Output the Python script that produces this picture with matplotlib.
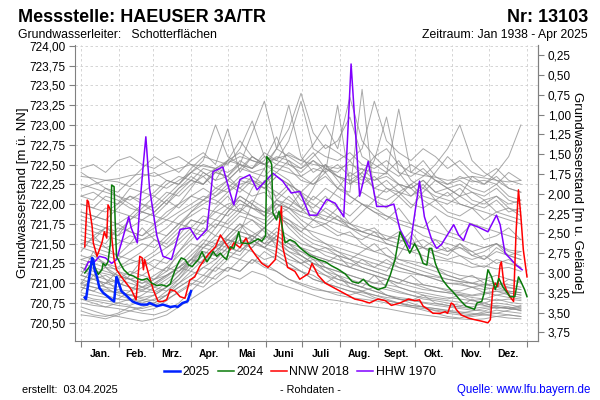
import numpy as np
import matplotlib
matplotlib.use("Agg")
import matplotlib.pyplot as plt
from matplotlib.ticker import FuncFormatter
from matplotlib.lines import Line2D

plt.rcParams['font.family'] = ['Liberation Sans', 'DejaVu Sans']

# ground level of the well (m ü. NN), used for the right axis
GOK = 724.13

month_names = ["Jan.", "Feb.", "Mrz.", "Apr.", "Mai", "Juni", "Juli", "Aug.",
               "Sept.", "Okt.", "Nov.", "Dez."]
month_starts = [0, 31, 59, 90, 120, 151, 181, 212, 243, 273, 304, 334, 365]

# historical years (grey), sampled every 10 days from 1 Jan
grey_days = list(range(0, 361, 10))
grey_years = [
    [722.35, 722.33, 722.30, 722.32, 722.36, 722.38, 722.35, 722.40, 722.45, 722.50, 722.48, 722.45, 722.52, 722.60, 722.55, 722.50, 722.58, 722.62, 722.55, 722.50, 722.48, 722.45, 722.50, 722.44, 722.40, 722.38, 723.20, 722.40, 722.36, 722.34, 722.30, 722.32, 722.35, 722.33, 722.30, 722.28, 722.30],
    [722.20, 722.25, 722.30, 722.28, 722.22, 722.35, 722.40, 722.30, 722.25, 722.45, 722.60, 722.55, 722.50, 722.70, 723.05, 722.60, 722.55, 722.80, 723.30, 722.70, 722.60, 722.55, 722.65, 722.50, 722.45, 722.55, 722.40, 722.35, 722.45, 722.30, 722.25, 722.35, 722.28, 722.30, 722.25, 722.40, 722.30],
    [721.90, 721.85, 721.80, 721.95, 722.10, 722.00, 721.90, 722.05, 722.20, 722.30, 722.25, 722.40, 722.35, 722.50, 722.40, 722.45, 722.70, 723.25, 722.60, 722.40, 722.50, 722.35, 722.30, 722.40, 722.20, 722.30, 722.15, 722.10, 722.25, 722.05, 722.00, 722.10, 722.00, 721.95, 722.05, 721.90, 721.95],
    [721.30, 721.25, 721.20, 721.18, 721.25, 721.30, 721.40, 721.55, 721.70, 721.90, 722.00, 722.10, 722.20, 722.35, 722.30, 722.25, 722.40, 722.30, 722.10, 722.00, 721.90, 721.80, 721.70, 721.60, 721.55, 721.50, 721.45, 721.40, 721.35, 721.30, 721.28, 721.25, 721.20, 721.22, 721.18, 721.20, 721.15],
    [720.80, 720.75, 720.70, 720.68, 720.65, 720.62, 720.60, 720.65, 720.75, 720.90, 721.05, 721.20, 721.35, 721.30, 721.45, 721.60, 721.50, 721.40, 721.30, 721.20, 721.10, 721.05, 721.00, 720.95, 720.90, 720.85, 720.82, 720.80, 720.75, 720.72, 720.70, 720.68, 720.66, 720.65, 720.70, 720.68, 720.66],
    [721.10, 721.05, 721.00, 720.95, 721.10, 721.30, 721.20, 721.15, 721.40, 721.60, 721.80, 721.70, 721.90, 722.10, 722.00, 721.85, 722.05, 722.20, 721.95, 721.80, 721.70, 721.60, 721.65, 721.50, 721.40, 721.45, 721.30, 721.25, 721.20, 721.15, 721.10, 721.05, 721.10, 721.00, 720.95, 721.05, 721.00],
    [721.60, 721.55, 721.50, 721.70, 721.65, 721.60, 721.75, 721.90, 722.00, 722.20, 722.40, 722.30, 722.55, 722.80, 722.60, 722.50, 722.70, 722.95, 723.40, 722.90, 722.70, 722.80, 723.10, 722.60, 722.50, 722.40, 722.55, 722.30, 722.20, 722.10, 722.05, 722.00, 721.95, 721.90, 721.85, 721.80, 721.75],
    [720.95, 720.90, 720.85, 720.80, 720.78, 720.85, 720.95, 721.05, 721.15, 721.30, 721.25, 721.40, 721.55, 721.50, 721.45, 721.60, 721.55, 721.40, 721.35, 721.25, 721.20, 721.15, 721.10, 721.05, 721.00, 720.98, 720.95, 720.90, 720.88, 720.85, 720.82, 720.80, 720.78, 720.80, 720.85, 720.82, 720.80],
    [721.70, 721.65, 721.60, 721.55, 721.50, 721.55, 721.60, 721.70, 721.85, 721.95, 722.05, 722.00, 722.15, 722.25, 722.30, 722.20, 722.35, 722.25, 722.15, 722.30, 722.45, 722.35, 722.25, 722.40, 722.60, 722.45, 722.35, 722.50, 722.40, 722.30, 722.20, 722.25, 722.15, 722.10, 722.20, 722.05, 722.00],
    [721.00, 721.20, 721.05, 720.90, 720.85, 720.80, 720.78, 720.90, 721.00, 721.15, 721.10, 721.25, 721.40, 721.35, 721.55, 721.70, 721.45, 721.35, 721.25, 721.30, 721.15, 721.05, 721.00, 720.95, 721.10, 720.95, 720.90, 720.85, 720.80, 720.78, 720.75, 720.72, 720.70, 720.75, 720.70, 720.68, 720.72],
    [722.00, 721.95, 722.10, 722.05, 721.95, 721.90, 722.00, 722.15, 722.10, 722.25, 722.35, 722.20, 722.30, 722.45, 722.40, 722.35, 722.50, 722.45, 722.30, 722.25, 722.35, 722.20, 722.15, 723.45, 722.10, 722.05, 722.15, 722.00, 721.95, 722.05, 721.90, 721.85, 721.95, 721.80, 721.90, 721.85, 721.80],
    [721.20, 721.10, 721.05, 721.00, 720.95, 720.90, 720.88, 720.95, 721.10, 721.25, 721.45, 721.60, 721.55, 721.70, 721.80, 721.65, 721.55, 721.45, 721.35, 721.25, 721.15, 721.10, 721.00, 720.95, 720.90, 720.85, 720.80, 720.75, 720.70, 720.65, 720.62, 720.60, 720.58, 720.60, 720.62, 720.60, 720.58],
    [721.40, 721.60, 721.45, 721.35, 721.50, 721.70, 721.55, 721.45, 721.60, 721.80, 721.75, 721.95, 722.10, 721.90, 722.20, 722.45, 722.05, 721.95, 722.15, 721.90, 721.80, 721.95, 721.75, 721.65, 721.70, 721.55, 721.50, 721.65, 721.45, 721.40, 721.35, 721.50, 721.40, 721.30, 721.45, 721.35, 721.30],
    [720.70, 720.65, 720.60, 720.58, 720.55, 720.52, 720.55, 720.60, 720.70, 720.80, 720.90, 721.00, 721.10, 721.05, 721.15, 721.10, 721.00, 720.95, 720.90, 720.85, 720.80, 720.78, 720.75, 720.72, 720.70, 720.68, 720.65, 720.62, 720.60, 720.58, 720.56, 720.55, 720.54, 720.55, 720.58, 720.56, 720.55],
    [721.80, 721.75, 721.70, 721.65, 721.80, 721.90, 721.85, 722.00, 722.15, 722.30, 722.25, 722.40, 722.35, 722.55, 722.45, 722.60, 722.50, 722.65, 722.55, 722.75, 723.00, 722.70, 723.35, 722.80, 722.60, 722.70, 722.50, 722.40, 722.55, 722.35, 722.25, 722.30, 722.20, 722.15, 722.25, 722.10, 722.05],
    [721.10, 721.05, 721.00, 721.05, 721.15, 721.10, 721.05, 721.10, 721.20, 721.35, 721.50, 721.45, 721.60, 721.75, 721.65, 721.55, 721.70, 721.60, 721.50, 721.45, 721.40, 721.35, 721.30, 721.25, 721.20, 721.30, 721.20, 721.15, 721.10, 721.05, 721.00, 721.00, 720.95, 720.98, 721.00, 720.95, 720.92],
    [721.00, 720.95, 720.90, 720.88, 720.85, 720.90, 721.00, 721.10, 721.20, 721.30, 721.40, 721.35, 721.50, 721.60, 721.55, 721.70, 721.85, 721.75, 721.65, 721.80, 721.95, 721.85, 721.75, 721.90, 722.05, 722.20, 722.10, 721.95, 722.15, 722.30, 722.20, 722.10, 722.35, 722.25, 722.40, 722.60, 723.00],
    [722.40, 722.30, 722.20, 722.10, 722.00, 721.90, 721.85, 721.80, 721.90, 722.00, 722.10, 722.05, 721.95, 722.10, 722.00, 721.90, 721.85, 721.80, 721.70, 721.65, 721.60, 721.55, 721.50, 721.45, 721.40, 721.35, 721.30, 721.28, 721.25, 721.20, 721.15, 721.10, 721.08, 721.05, 721.00, 720.98, 720.95],
    [721.50, 721.45, 721.40, 721.35, 721.30, 721.40, 721.55, 721.50, 721.65, 721.80, 721.75, 721.90, 721.85, 722.00, 721.95, 721.90, 722.05, 722.00, 721.90, 722.10, 722.00, 722.20, 722.40, 722.30, 722.55, 723.10, 722.40, 722.20, 722.05, 721.95, 721.85, 721.80, 721.75, 721.70, 721.65, 721.60, 721.55],
    [720.85, 720.80, 720.78, 720.75, 720.72, 720.78, 720.85, 720.95, 721.10, 721.30, 721.50, 721.70, 721.90, 722.05, 721.95, 721.85, 722.00, 721.90, 721.75, 721.60, 721.50, 721.40, 721.30, 721.20, 721.15, 721.10, 721.05, 721.00, 720.95, 720.90, 720.88, 720.85, 720.82, 720.80, 720.78, 720.80, 720.78],
    [722.10, 722.05, 722.20, 722.15, 722.30, 722.45, 722.60, 722.50, 722.40, 722.55, 722.65, 722.50, 722.95, 722.40, 722.60, 722.50, 722.45, 722.40, 722.35, 722.45, 722.40, 723.25, 722.25, 722.35, 722.20, 722.15, 722.25, 722.10, 722.20, 722.40, 722.60, 722.45, 722.30, 722.25, 722.35, 722.20, 722.15],
    [721.25, 721.20, 721.15, 721.10, 721.05, 721.00, 721.05, 721.15, 721.25, 721.40, 721.55, 721.50, 721.70, 721.65, 722.00, 722.30, 721.90, 721.70, 721.55, 721.45, 721.35, 721.30, 721.25, 721.20, 721.15, 721.10, 721.05, 721.00, 720.98, 720.95, 720.90, 720.88, 720.85, 720.88, 720.90, 720.85, 720.82],
    [721.65, 721.60, 721.70, 721.75, 721.65, 721.60, 721.70, 721.80, 721.75, 721.85, 721.95, 721.90, 722.00, 722.05, 721.95, 721.90, 722.00, 721.95, 721.85, 721.80, 721.75, 721.85, 721.70, 721.65, 721.60, 721.55, 721.65, 721.50, 721.45, 721.55, 721.40, 721.45, 721.35, 721.40, 721.50, 721.35, 721.40],
    [721.05, 721.00, 720.95, 720.92, 720.90, 720.95, 721.05, 721.20, 721.15, 721.30, 721.45, 721.40, 721.55, 721.50, 721.60, 721.50, 721.45, 721.35, 721.25, 721.15, 721.10, 721.00, 720.95, 720.90, 720.85, 720.80, 720.75, 720.70, 720.66, 720.62, 720.58, 720.56, 720.60, 720.64, 720.62, 720.66, 720.70],
    [721.90, 721.85, 721.80, 721.75, 721.85, 722.00, 721.95, 722.10, 722.25, 722.40, 722.55, 723.00, 722.60, 722.50, 722.90, 723.30, 722.70, 722.60, 722.50, 722.65, 722.45, 722.40, 722.55, 722.35, 722.30, 722.40, 722.25, 722.20, 722.30, 722.15, 722.10, 722.20, 722.05, 722.00, 722.10, 721.95, 721.90],
    [720.90, 721.10, 720.95, 720.85, 720.80, 720.75, 720.80, 720.85, 720.95, 721.05, 721.00, 721.20, 721.15, 721.30, 721.25, 721.40, 721.30, 721.20, 721.15, 721.05, 721.00, 721.10, 720.95, 720.90, 720.95, 720.85, 720.80, 720.78, 720.85, 720.75, 720.72, 720.70, 720.80, 720.72, 720.68, 720.70, 720.65],
    [721.35, 721.30, 721.25, 721.20, 721.30, 721.25, 721.35, 721.45, 721.55, 721.70, 721.65, 721.80, 721.75, 721.90, 721.85, 721.80, 721.95, 722.10, 721.95, 722.20, 722.50, 722.30, 722.10, 722.00, 721.90, 721.85, 721.75, 721.70, 721.60, 721.55, 721.50, 721.45, 721.40, 721.45, 721.50, 721.40, 721.35],
    [722.25, 722.20, 722.15, 722.10, 722.05, 722.15, 722.25, 722.20, 722.30, 722.40, 722.35, 722.45, 722.40, 722.50, 722.45, 722.55, 722.85, 722.50, 722.45, 722.55, 722.40, 722.50, 722.35, 722.45, 722.30, 722.35, 722.25, 722.20, 722.30, 722.15, 722.20, 722.10, 722.15, 722.05, 722.10, 722.00, 722.05],
    [721.15, 721.10, 721.20, 721.10, 721.05, 721.00, 721.10, 721.20, 721.35, 721.50, 721.45, 721.55, 721.50, 721.65, 721.60, 721.50, 721.55, 721.45, 721.40, 721.35, 721.30, 721.25, 721.20, 721.30, 721.20, 721.15, 721.35, 721.60, 721.30, 721.20, 721.10, 721.05, 721.00, 720.95, 720.92, 720.90, 720.88],
    [722.00, 721.95, 721.90, 722.00, 722.10, 722.05, 722.15, 722.30, 722.25, 722.40, 722.50, 722.45, 722.55, 722.65, 722.55, 722.50, 722.60, 722.55, 722.45, 722.60, 722.75, 722.65, 722.55, 722.70, 723.30, 722.80, 722.65, 722.55, 722.70, 722.60, 722.45, 722.55, 722.40, 722.35, 722.45, 722.30, 722.25],
    [720.95, 720.90, 721.00, 721.15, 721.05, 720.95, 720.90, 721.00, 721.15, 721.25, 721.35, 721.30, 721.45, 721.40, 721.55, 721.45, 721.40, 721.30, 721.25, 721.35, 721.20, 721.15, 721.10, 721.05, 721.00, 721.05, 720.95, 720.90, 720.85, 720.82, 720.80, 720.85, 720.78, 720.75, 720.80, 720.76, 720.74],
    [721.75, 721.70, 721.65, 721.60, 721.70, 721.80, 721.75, 721.85, 722.00, 722.10, 722.05, 722.20, 722.15, 722.30, 722.25, 722.20, 722.35, 722.25, 722.15, 722.05, 722.20, 722.10, 722.00, 722.15, 722.05, 721.95, 722.10, 722.25, 722.35, 722.50, 722.70, 723.00, 722.55, 722.40, 722.30, 722.20, 722.15],
    [721.30, 721.35, 721.25, 721.15, 721.10, 721.20, 721.30, 721.25, 721.40, 721.55, 721.70, 721.60, 721.80, 721.95, 721.85, 721.75, 721.90, 721.80, 721.65, 721.55, 721.50, 721.45, 721.40, 721.35, 721.30, 721.25, 721.20, 721.15, 721.10, 721.05, 721.00, 720.98, 720.95, 720.92, 720.95, 720.90, 720.88],
    [720.75, 720.72, 720.70, 720.75, 720.80, 720.78, 720.75, 720.85, 721.00, 721.10, 721.20, 721.15, 721.30, 721.45, 721.40, 721.30, 721.35, 721.25, 721.15, 721.10, 721.00, 720.95, 720.90, 720.88, 720.85, 720.82, 720.80, 720.78, 720.76, 720.74, 720.72, 720.70, 720.68, 720.70, 720.72, 720.70, 720.68],
    [721.50, 721.55, 721.70, 721.60, 721.80, 721.95, 722.10, 722.00, 722.20, 722.35, 722.25, 722.45, 722.30, 722.20, 722.35, 722.25, 722.15, 722.05, 721.95, 721.90, 721.85, 721.80, 721.75, 721.70, 721.65, 721.60, 721.55, 721.50, 721.55, 721.45, 721.40, 721.50, 721.35, 721.30, 721.40, 721.35, 721.30],
    [722.10, 722.15, 722.05, 722.00, 722.20, 722.15, 722.10, 722.25, 722.35, 722.30, 722.45, 722.40, 722.55, 722.50, 722.45, 722.65, 722.55, 722.50, 722.40, 722.55, 722.45, 722.35, 722.30, 722.25, 722.35, 722.20, 722.15, 722.25, 722.10, 722.05, 722.15, 722.00, 721.95, 722.05, 721.90, 721.95, 721.85],
    [721.10, 721.40, 721.20, 721.05, 721.00, 720.95, 721.00, 721.10, 721.20, 721.15, 721.30, 721.45, 721.40, 721.55, 721.50, 721.45, 721.60, 721.50, 721.40, 721.30, 721.25, 721.35, 721.20, 721.15, 721.10, 721.05, 721.00, 721.10, 720.98, 720.95, 720.92, 720.90, 720.95, 720.88, 720.85, 720.88, 720.85],
    [720.88, 720.85, 720.82, 720.80, 720.90, 721.05, 720.95, 720.90, 721.05, 721.25, 721.40, 721.35, 721.60, 721.75, 721.55, 721.45, 721.60, 721.50, 721.35, 721.25, 721.20, 721.10, 721.05, 721.00, 720.95, 720.92, 720.88, 720.85, 720.82, 720.80, 720.78, 720.76, 720.74, 720.72, 720.75, 720.73, 720.70],
    [721.45, 721.40, 721.35, 721.30, 721.40, 721.50, 721.45, 721.60, 721.75, 721.90, 722.05, 722.15, 722.30, 722.45, 722.60, 722.50, 722.40, 722.55, 722.35, 722.25, 722.40, 722.20, 722.10, 722.00, 721.95, 721.85, 721.80, 721.75, 721.70, 721.65, 721.60, 721.55, 721.50, 721.45, 721.50, 721.42, 721.40],
    [721.00, 721.05, 721.10, 721.00, 720.95, 720.92, 720.98, 721.08, 721.20, 721.30, 721.25, 721.45, 721.55, 721.50, 721.60, 721.70, 721.60, 721.50, 721.45, 721.40, 721.45, 721.35, 721.30, 721.40, 721.50, 721.35, 721.25, 721.20, 721.15, 721.10, 721.05, 721.02, 721.00, 720.98, 720.96, 720.94, 720.92],
    [721.85, 721.80, 721.95, 721.90, 721.85, 721.80, 721.90, 722.05, 721.95, 722.10, 722.20, 722.10, 722.25, 722.15, 722.30, 722.20, 722.10, 722.25, 722.05, 721.95, 722.10, 721.95, 721.85, 722.00, 721.90, 721.80, 721.95, 721.75, 721.70, 721.85, 721.65, 721.60, 721.75, 721.55, 721.60, 721.70, 721.55],
    [720.65, 720.60, 720.58, 720.62, 720.70, 720.65, 720.68, 720.78, 720.90, 721.00, 720.95, 721.10, 721.20, 721.15, 721.30, 721.25, 721.15, 721.05, 721.00, 720.95, 720.90, 720.88, 720.85, 720.90, 720.82, 720.78, 720.75, 720.72, 720.70, 720.68, 720.65, 720.62, 720.60, 720.62, 720.66, 720.64, 720.62],
    [721.55, 721.50, 721.45, 721.50, 721.60, 721.55, 721.65, 721.60, 721.75, 721.70, 721.85, 721.80, 721.95, 721.90, 722.05, 721.95, 721.85, 721.95, 721.80, 721.70, 721.75, 721.65, 721.60, 721.55, 721.65, 721.50, 721.45, 721.40, 721.45, 721.35, 721.30, 721.35, 721.25, 721.20, 721.30, 721.25, 721.20],
    [722.45, 722.50, 722.40, 722.55, 722.60, 722.50, 722.45, 722.55, 722.60, 722.50, 722.40, 722.30, 722.35, 722.20, 722.10, 722.15, 722.00, 721.95, 721.90, 721.85, 721.80, 721.75, 721.70, 721.65, 721.60, 721.55, 721.60, 721.50, 721.45, 721.40, 721.45, 721.35, 721.30, 721.35, 721.25, 721.30, 721.20],
    [720.60, 720.58, 720.55, 720.60, 720.65, 720.70, 720.75, 720.85, 720.95, 721.05, 721.20, 721.30, 721.45, 721.40, 721.55, 721.45, 721.35, 721.25, 721.15, 721.05, 721.00, 720.95, 720.90, 720.85, 720.80, 720.78, 720.75, 720.72, 720.70, 720.68, 720.66, 720.64, 720.62, 720.60, 720.58, 720.60, 720.58],
    [720.98, 720.95, 720.92, 720.88, 720.85, 720.82, 720.85, 720.95, 721.05, 721.20, 721.35, 721.50, 721.45, 721.65, 721.60, 721.50, 721.65, 721.55, 721.45, 721.35, 721.30, 721.25, 721.20, 721.15, 721.10, 721.05, 721.00, 720.96, 720.92, 720.90, 720.88, 720.86, 720.84, 720.86, 720.90, 720.88, 720.85],
    [721.20, 721.15, 721.12, 721.08, 721.05, 721.10, 721.20, 721.35, 721.50, 721.65, 721.60, 721.75, 721.70, 721.85, 721.80, 721.70, 721.85, 721.75, 721.60, 721.50, 721.45, 721.40, 721.35, 721.30, 721.25, 721.20, 721.15, 721.12, 721.10, 721.08, 721.05, 721.02, 721.00, 721.05, 721.10, 721.05, 721.02],
    [720.80, 720.78, 720.75, 720.72, 720.70, 720.68, 720.72, 720.80, 720.88, 720.98, 721.10, 721.05, 721.20, 721.15, 721.30, 721.20, 721.15, 721.05, 720.98, 720.92, 720.90, 720.85, 720.82, 720.80, 720.78, 720.75, 720.72, 720.70, 720.68, 720.66, 720.64, 720.62, 720.65, 720.68, 720.70, 720.68, 720.66],
]

# highlighted years (day of year, level in m ü. NN)
days_2025 = [3, 4, 9, 10, 11, 13, 15, 18, 22, 25, 27, 29, 30, 33, 38, 42, 45, 49, 54, 56, 62, 67, 73, 77, 79, 83, 87, 90]
vals_2025 = [720.82, 720.80, 721.32, 721.30, 721.17, 721.08, 720.94, 720.88, 720.83, 720.79, 720.77, 721.08, 721.04, 720.90,
             720.83, 720.77, 720.75, 720.73, 720.73, 720.75, 720.71, 720.73, 720.70, 720.71, 720.70, 720.75, 720.77, 720.90]

days_2024 = [3, 6, 9, 11, 14, 17, 18, 20, 22, 24, 25, 27, 28, 29, 32, 35, 39, 43, 46, 50, 54, 58, 62, 66, 70, 73, 74, 77,
             80, 82, 85, 88, 91, 93, 96, 99, 100, 103, 106, 108, 111, 114, 116, 119, 122, 125, 129, 131, 138, 145, 148, 151,
             152, 155, 156, 157, 160, 162, 164, 167, 171, 175, 179, 183, 187, 194, 200, 205, 210, 216, 222, 227, 231, 236,
             243, 249, 253, 257, 261, 264, 269, 273, 277, 280, 283, 285, 287, 290, 292, 296, 300, 305, 310, 315, 322, 324,
             328, 330, 333, 336, 339, 342, 345, 351, 355, 358, 360, 363, 365]
vals_2024 = [721.13, 721.19, 721.25, 721.21, 721.11, 721.17, 721.25, 721.22, 721.27, 721.51, 722.24, 722.22, 721.72, 721.34,
             721.25, 721.17, 721.11, 721.09, 721.06, 721.04, 721.06, 721.00, 720.97, 720.98, 720.96, 720.99, 721.04, 721.17,
             721.27, 721.32, 721.30, 721.23, 721.21, 721.25, 721.30, 721.40, 721.36, 721.27, 721.34, 721.40, 721.34, 721.38,
             721.34, 721.30, 721.46, 721.44, 721.65, 721.51, 721.50, 721.56, 721.53, 721.60, 722.60, 722.54, 722.50, 721.89,
             721.80, 721.91, 721.76, 721.51, 721.55, 721.52, 721.45, 721.40, 721.35, 721.30, 721.27, 721.22, 721.18, 721.12,
             721.02, 721.00, 721.05, 720.97, 720.92, 720.95, 721.10, 721.30, 721.65, 721.55, 721.38, 721.50, 721.38, 721.25,
             721.23, 721.44, 721.44, 721.25, 721.17, 721.04, 720.96, 720.88, 720.79, 720.71, 720.67, 720.75, 720.77, 720.88,
             721.17, 721.08, 720.92, 721.06, 720.96, 720.83, 720.83, 721.08, 721.02, 720.92, 720.83]

days_2018 = [3, 5, 6, 9, 10, 13, 17, 19, 21, 22, 24, 25, 27, 29, 33, 37, 41, 45, 48, 50, 51, 52, 55, 59, 63, 67, 70, 73, 77,
             81, 85, 89, 93, 97, 101, 105, 110, 114, 118, 122, 125, 130, 135, 138, 143, 148, 153, 159, 163, 164, 165, 169,
             175, 179, 186, 189, 194, 200, 206, 212, 218, 224, 230, 236, 243, 249, 254, 261, 268, 273, 277, 280, 284, 288,
             294, 298, 300, 303, 305, 307, 311, 317, 322, 328, 333, 335, 337, 339, 341, 343, 344, 346, 348, 351, 354, 356,
             358, 360, 362, 365]
vals_2018 = [721.46, 722.05, 722.03, 721.72, 721.51, 721.34, 721.51, 721.65, 721.57, 721.99, 721.93, 721.59, 721.30, 721.17,
             721.08, 721.00, 720.92, 720.79, 721.34, 721.32, 721.17, 721.30, 721.13, 720.92, 720.77, 720.77, 720.79, 720.92,
             720.90, 720.83, 720.81, 721.04, 721.08, 721.21, 721.30, 721.38, 721.46, 721.61, 721.51, 721.42, 721.51, 721.45,
             721.57, 721.46, 721.35, 721.25, 721.20, 721.30, 721.84, 721.97, 721.46, 721.20, 721.15, 721.05, 721.12, 721.25,
             721.10, 721.00, 720.95, 720.90, 720.85, 720.80, 720.78, 720.75, 720.80, 720.78, 720.72, 720.75, 720.80, 720.78,
             720.79, 720.71, 720.67, 720.62, 720.62, 720.64, 720.62, 720.75, 720.73, 720.67, 720.60, 720.56, 720.54, 720.52,
             720.50, 720.54, 720.92, 721.00, 720.96, 721.23, 721.27, 721.00, 720.92, 720.83, 720.77, 721.63, 722.18, 721.84,
             721.42, 721.08]

days_1970 = [3, 6, 11, 15, 20, 25, 29, 33, 39, 41, 46, 48, 51, 53, 56, 62, 67, 74, 81, 89, 95, 103, 108, 116, 122, 125, 130,
             138, 144, 157, 165, 172, 179, 187, 193, 201, 208, 215, 221, 228, 235, 242, 250, 256, 261, 269, 277, 281, 287,
             291, 295, 299, 305, 309, 313, 318, 325, 333, 340, 343, 347, 352, 356, 361]
vals_1970 = [721.17, 721.27, 721.27, 721.34, 721.32, 721.25, 721.30, 721.51, 721.84, 721.70, 721.51, 721.97, 722.52, 722.85,
             722.20, 721.60, 721.34, 721.30, 721.68, 721.70, 721.55, 721.68, 722.41, 722.47, 722.14, 721.99, 722.31, 722.37,
             722.18, 722.39, 722.29, 722.14, 722.16, 721.86, 721.86, 722.06, 722.01, 721.84, 723.77, 722.10, 722.54, 721.97,
             721.97, 722.00, 721.68, 721.44, 722.29, 721.84, 721.55, 721.44, 721.49, 721.59, 721.74, 721.61, 721.54, 721.75,
             721.71, 721.65, 721.86, 721.74, 721.38, 721.30, 721.23, 721.17]

fig = plt.figure(figsize=(6, 4), dpi=100)
ax = fig.add_axes([75 / 600, 1 - 341 / 400, 463 / 600, 296 / 400])

for year in grey_years:
    ax.plot(grey_days, year, color='#8c8c8c', lw=0.7, alpha=0.75, zorder=2)

ax.plot(days_1970, vals_1970, color='#8000ff', lw=1.1, zorder=4)
ax.plot(days_2018, vals_2018, color='#ff0000', lw=1.1, zorder=5)
ax.plot(days_2024, vals_2024, color='#0a7a0a', lw=1.1, zorder=6)
ax.plot(days_2025, vals_2025, color='#0022ff', lw=1.8, zorder=7)

ax.set_xlim(-5, 374)
ax.set_ylim(720.27, 724.01)

comma = FuncFormatter(lambda v, _: f"{v:.2f}".replace('.', ','))
ax.set_yticks(np.arange(720.5, 724.01, 0.25))
ax.yaxis.set_major_formatter(comma)
ax.set_xticks(month_starts)
ax.set_xticklabels([])
ax.set_xticks([(a + b) / 2 for a, b in zip(month_starts[:-1], month_starts[1:])], minor=True)
ax.set_xticklabels(month_names, minor=True, fontsize=7.5, fontweight='bold')
ax.tick_params(axis='x', which='minor', length=0, pad=6)
ax.tick_params(axis='x', which='major', length=4, color='#808080')
ax.tick_params(axis='y', length=4, color='#808080', labelsize=8.5, pad=3)
ax.grid(True, which='major', color='#cfcfcf', lw=0.6, ls=(0, (3, 3)))

for side in ['left', 'bottom', 'right']:
    ax.spines[side].set_color('#808080')
ax.spines['top'].set_visible(False)
ax.set_ylabel("Grundwasserstand [m ü. NN]", fontsize=9.5, labelpad=0)

sec = ax.secondary_yaxis('right', functions=(lambda y: GOK - y, lambda d: GOK - d))
sec.set_yticks(np.arange(0.25, 3.76, 0.25))
sec.yaxis.set_major_formatter(comma)
sec.tick_params(length=4, color='#808080', labelsize=8.5, pad=3)
sec.spines['right'].set_color('#808080')
sec.set_ylabel("Grundwasserstand [m u. Gelände]", fontsize=9.5, rotation=-90, labelpad=9)

fig.text(18 / 600, 1 - 22 / 400, "Messstelle: HAEUSER 3A/TR", fontsize=13, fontweight='bold')
fig.text(588 / 600, 1 - 22 / 400, "Nr: 13103", fontsize=13, fontweight='bold', ha='right')
fig.text(18 / 600, 1 - 38 / 400, "Grundwasserleiter:   Schotterflächen", fontsize=8.8)
fig.text(588 / 600, 1 - 38 / 400, "Zeitraum: Jan 1938 - Apr 2025", fontsize=8.8, ha='right')

handles = [Line2D([], [], color='#0022ff', lw=1.8), Line2D([], [], color='#0a7a0a', lw=1.1),
           Line2D([], [], color='#ff0000', lw=1.1), Line2D([], [], color='#8000ff', lw=1.1)]
fig.legend(handles, ["2025", "2024", "NNW 2018", "HHW 1970"], loc='center', ncol=4,
           bbox_to_anchor=(300 / 600, 1 - 372 / 400), frameon=False, fontsize=8.8,
           handlelength=1.3, handletextpad=0.2, columnspacing=0.65)

fig.text(22 / 600, 1 - 393 / 400, "erstellt:  03.04.2025", fontsize=7.8)
fig.text(310 / 600, 1 - 393 / 400, "- Rohdaten -", fontsize=7.8, ha='center')
fig.text(590 / 600, 1 - 393 / 400, "Quelle: www.lfu.bayern.de", fontsize=8.3, ha='right', color='#0000ff')

fig.savefig("out.png", dpi=100)
